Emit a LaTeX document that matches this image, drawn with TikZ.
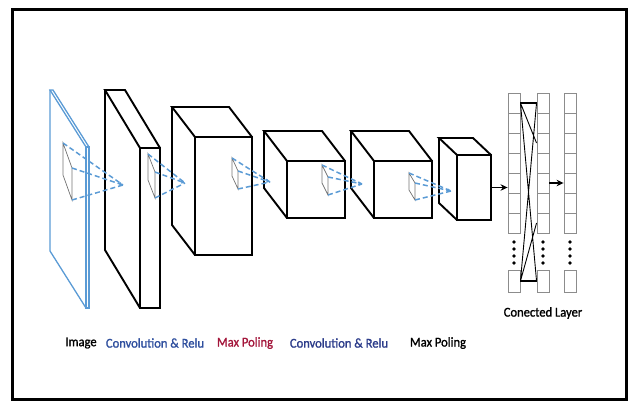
\documentclass[tikz,border=0pt]{standalone}
\usepackage{fontspec}
\setmainfont{Carlito}
\newfontfamily\capfont{Carlito}[FakeBold=1.3]
\usetikzlibrary{positioning,calc,arrows.meta}

\definecolor{planeblue}{HTML}{5B9BD5}
\definecolor{convblue}{HTML}{2F4F9E}
\definecolor{convnavy}{HTML}{2C3C8A}
\definecolor{poolred}{HTML}{A3153A}

% cuboid: name, front face corner x y, width, height, depth dx dy
\newcommand{\cuboid}[8][box]{%
  \draw[#1] (#3,#4) rectangle ++(#5,#6);
  \draw[#1] (#3,#4) -- ++(-#7,-#8) -- ++(#5,0) -- ++(#7,#8);
  \draw[#1] (#3-#7,#4-#8) -- ++(0,#6) -- (#3,#4+#6);
  \coordinate (#2-e) at (#3+#5,#4+#6/2);
}
% small filter slab: name, corner x y, width, shear, height
\newcommand{\filtr}[6]{%
  \coordinate (#1-1) at (#2,#3);
  \coordinate (#1-2) at (#2+#4,#3+#5);
  \coordinate (#1-3) at (#2+#4,#3+#5+#6);
  \coordinate (#1-4) at (#2,#3+#6);
  \draw[kernel] (#1-1) -- (#1-2) -- (#1-3) -- (#1-4) -- cycle;
}

\tikzset{
  box/.style={line width=1.9pt},
  kernel/.style={draw=black!55, line width=0.7pt},
  ray/.style={planeblue, line width=1.5pt, dash pattern=on 5pt off 3pt},
  cell/.style={draw=black!45, line width=0.9pt, minimum width=12pt,
               minimum height=20pt, inner sep=0pt},
  lbl/.style={font=\capfont\fontsize{13.5}{15}\selectfont, inner sep=1pt,
              xscale=0.93}
}

\begin{document}
\begin{tikzpicture}[x=1pt,y=-1pt]
\useasboundingbox (0,0) rectangle (631,404);
\draw[line width=3pt] (12.5,9.5) rectangle (626,399.5);

% feature maps
\cuboid[draw=planeblue, line width=1.3pt]{img}{86}{147}{3}{161}{36}{57}
\cuboid{conv1}{140}{148}{20}{160}{35}{58}
\cuboid{pool1}{195}{137}{57}{118}{23}{30}
\cuboid{conv2}{287}{161}{58}{57}{23}{30}
\cuboid{conv3}{374}{161}{58}{57}{23}{30}
\cuboid{pool2}{457}{155}{34}{65}{18}{17}

% filters and their receptive rays
\filtr{k0}{63}{143}{9}{25}{32}
\filtr{k1}{148}{154}{7}{18}{26}
\filtr{k2}{232}{158}{6}{13}{18}
\filtr{k3}{322}{165}{6}{12}{18}
\filtr{k4}{409}{173}{6}{10}{17}
\coordinate (t0) at (123,185);
\coordinate (t1) at (185,183);
\coordinate (t2) at (270,182);
\coordinate (t3) at (362,184);
\coordinate (t4) at (451,191);
\foreach \i in {0,...,4}{
  \draw[ray] (k\i-1) -- (t\i);
  \draw[ray] (k\i-3) -- (t\i);
  \draw[ray, -{Latex[length=3.5pt,width=4pt]}] (k\i-2) -- (t\i);
}

% fully connected columns
\foreach \col/\x in {a/514, b/543, c/570}{
  \foreach \r in {1,...,7}
    \node[cell] (\col\r) at (\x,{83+20*\r}) {};
  \node[cell, minimum height=22pt] (\col8) at (\x,281) {};
  \foreach \d in {242,249,256,263}
    \fill (\x,\d) circle (1.8pt);
}
\draw[line width=1.3pt] (a1.east) -- (b1.west) (a8.east) -- (b8.west);
\draw[line width=0.9pt] (a1.east) -- (b3.west)
  (a1.east) -- (b8.west) (b1.west) -- (a8.east) (b7.west) -- (a8.east);

\draw[line width=1.4pt, -{Stealth[length=7pt,width=6.5pt]}]
  (pool2-e) -- (pool2-e -| a5.west);
\draw[line width=1.4pt, -{Stealth[length=7pt,width=6.5pt]}]
  (b5.east) -- (c5.west);

% captions
\node[lbl] (l-img)   at (81,343)  {Image};
\node[lbl, text=convblue] (l-conv1) at (155,343) {Convolution \& Relu};
\node[lbl, text=poolred]  (l-pool1) at (245,343) {Max Poling};
\node[lbl, text=convnavy] (l-conv2) at (339,343) {Convolution \& Relu};
\node[lbl]  (l-pool2) at (438,343) {Max Poling};
\node[lbl]  (l-fc)    at (543,313) {Conected Layer};
\end{tikzpicture}
\end{document}
